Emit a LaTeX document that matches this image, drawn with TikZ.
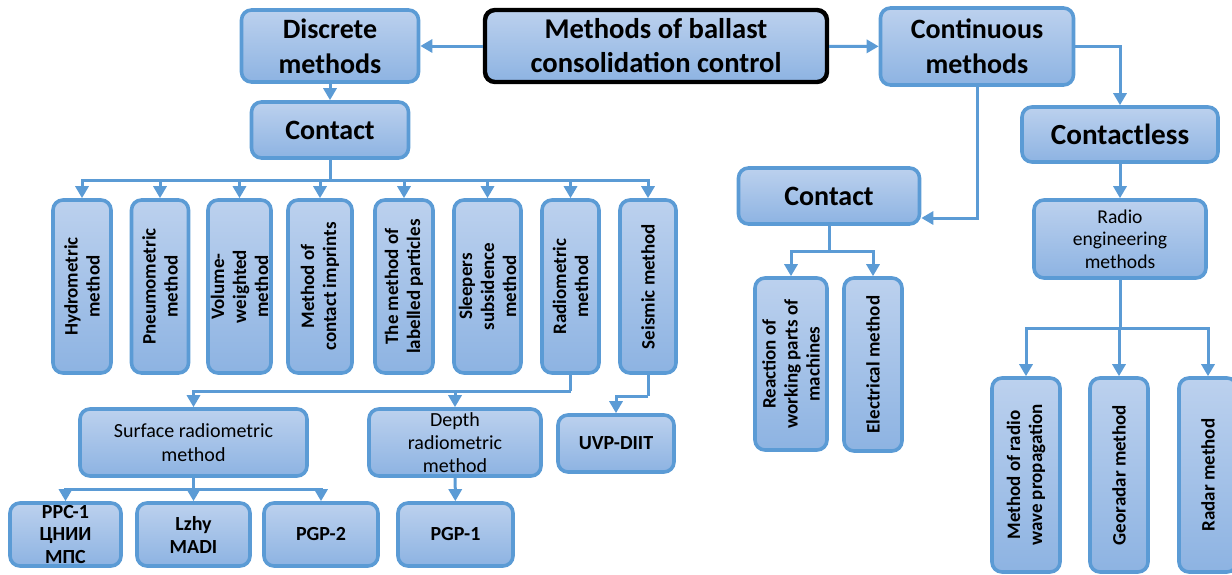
\documentclass[tikz,border=0pt]{standalone}
\usepackage{fontspec}
\setmainfont{Carlito}
\usetikzlibrary{arrows.meta}

\definecolor{boxline}{RGB}{91,155,213}
\definecolor{boxtop}{RGB}{188,209,238}
\definecolor{boxbot}{RGB}{141,179,226}

\tikzset{
  link/.style={draw=boxline, line width=1.5pt},
  conn/.style={link, -{Triangle[length=6pt,width=6.5pt]}},
  box/.style={draw=boxline, line width=1.8pt, rounded corners=5pt,
    top color=boxtop, bottom color=boxbot, align=center,
    inner xsep=2pt, inner ysep=0pt, font=\fontsize{14}{17.5}\selectfont\bfseries},
  mainbox/.style={box, draw=black, line width=2.2pt, font=\fontsize{14.3}{17}\selectfont\bfseries},
  vbox/.style={box, rotate=90, font=\fontsize{9.5}{11}\selectfont\bfseries},
  smallbox/.style={box, font=\fontsize{10}{11.5}\selectfont\bfseries},
  textbox/.style={box, font=\fontsize{10}{12}\selectfont},
}

\begin{document}
\begin{tikzpicture}[x=0.5pt, y=-0.5pt]
    \useasboundingbox (0,0) rectangle (1232,574);

    % Top level
    \node[mainbox, minimum width=171pt, minimum height=36pt] (main) at (656,46) {Methods of ballast\\consolidation control};
    \node[box, minimum width=88.5pt, minimum height=36pt] (disc) at (330,46) {Discrete\\methods};
    \node[box, minimum width=96.5pt, minimum height=38.5pt] (cont) at (977,46.5) {Continuous\\methods};
    \draw[conn] (main) -- (disc);
    \draw[conn] (main) -- (cont);

    % Discrete methods - contact
    \node[box, minimum width=78.5pt, minimum height=28pt] (contA) at (330,130) {Contact};
    \draw[conn] (disc) -- (contA);

    \node[vbox, minimum width=86.5pt, minimum height=29pt] (hyd) at (82,286.5) {Hydrometric\\method};
    \node[vbox, minimum width=86.5pt, minimum height=28.5pt] (pneu) at (160,286.5) {Pneumometric\\method};
    \node[vbox, minimum width=86.5pt, minimum height=31.5pt] (vol) at (239.5,286.5) {Volume-\\weighted\\method};
    \node[vbox, minimum width=86.5pt, minimum height=32pt] (imp) at (320,286.5) {Method of\\contact imprints};
    \node[vbox, minimum width=86.5pt, minimum height=29pt] (lab) at (404,286.5) {The method of\\labelled particles};
    \node[vbox, minimum width=86.5pt, minimum height=33.5pt] (slp) at (487.5,286.5) {Sleepers\\subsidence\\method};
    \node[vbox, minimum width=86.5pt, minimum height=28.5pt] (rad) at (570.5,286.5) {Radiometric\\method};
    \node[vbox, minimum width=86.5pt, minimum height=28pt] (seis) at (648,286.5) {Seismic method};

    \coordinate (jA) at (330,180);
    \draw[link] (contA) -- (jA);
    \foreach \c in {hyd,pneu,vol,imp,lab,slp,rad,seis}
        \draw[conn] (jA) -| (\c);

    % Radiometric branch
    \node[textbox, minimum width=113.5pt, minimum height=33.5pt] (surf) at (193.5,442.5) {Surface radiometric\\method};
    \node[textbox, minimum width=86pt, minimum height=33.5pt, font=\fontsize{10}{11.5}\selectfont] (depth) at (455,442.5) {Depth\\radiometric\\method};
    \coordinate (jRad) at (570.5,391);
    \draw[link] (rad) -- (jRad);
    \draw[conn] (jRad) -| (surf);
    \draw[conn] (jRad) -| (depth);

    % Seismic branch
    \node[smallbox, minimum width=58pt, minimum height=28.5pt] (uvp) at (616,443.5) {UVP-DIIT};
    \coordinate (jS) at (648,396);
    \draw[link] (seis) -- (jS);
    \draw[conn] (jS) -| (uvp);

    % Devices
    \node[smallbox, minimum width=55.5pt, minimum height=31.5pt] (ppc) at (65.5,534.5) {РРС-1\\ЦНИИ\\МПС};
    \node[smallbox, minimum width=56.5pt, minimum height=31.5pt] (lzhy) at (193.5,534.5) {Lzhy\\MADI};
    \node[smallbox, minimum width=57pt, minimum height=31.5pt] (pgp2) at (321,534.5) {PGP-2};
    \node[smallbox, minimum width=57.5pt, minimum height=31.5pt] (pgp1) at (455.5,534.5) {PGP-1};
    \coordinate (jSf) at (193.5,489);
    \draw[link] (surf) -- (jSf);
    \foreach \c in {ppc,lzhy,pgp2}
        \draw[conn] (jSf) -| (\c);
    \draw[conn] (depth) -- (pgp1);

    % Continuous methods - contact
    \node[box, minimum width=90.5pt, minimum height=28pt] (contB) at (829,196) {Contact};
    \coordinate (bIn) at ([yshift=-11pt]contB.east);
    \draw[conn] (cont.south) |- (bIn);
    \node[vbox, minimum width=86pt, minimum height=36pt] (react) at (791,364) {Reaction of\\working parts of\\machines};
    \node[vbox, minimum width=86.5pt, minimum height=29pt] (elec) at (873,364.5) {Electrical method};
    \coordinate (jB) at (829,251);
    \draw[link] (contB) -- (jB);
    \draw[conn] (jB) -| (react);
    \draw[conn] (jB) -| (elec);

    % Continuous methods - contactless
    \node[box, minimum width=98pt, minimum height=27.5pt, font=\fontsize{14.6}{17.5}\selectfont\bfseries] (cless) at (1120,134.5) {Contactless};
    \draw[conn] (cont.east) -| (cless);
    \node[textbox, minimum width=86pt, minimum height=39pt, font=\fontsize{9.8}{11.3}\selectfont] (radio) at (1120,239) {Radio\\engineering\\methods};
    \draw[conn] (cless) -- (radio);
    \node[vbox, minimum width=97pt, minimum height=34pt] (wave) at (1026,475) {Method of radio\\wave propagation};
    \node[vbox, minimum width=97pt, minimum height=29pt] (geo) at (1119,475) {Georadar method};
    \node[vbox, minimum width=97pt, minimum height=29pt] (radar) at (1208,475) {Radar method};
    \coordinate (jR) at (1120,328);
    \draw[link] (radio) -- (jR);
    \foreach \c in {wave,geo,radar}
        \draw[conn] (jR) -| (\c);
\end{tikzpicture}
\end{document}
